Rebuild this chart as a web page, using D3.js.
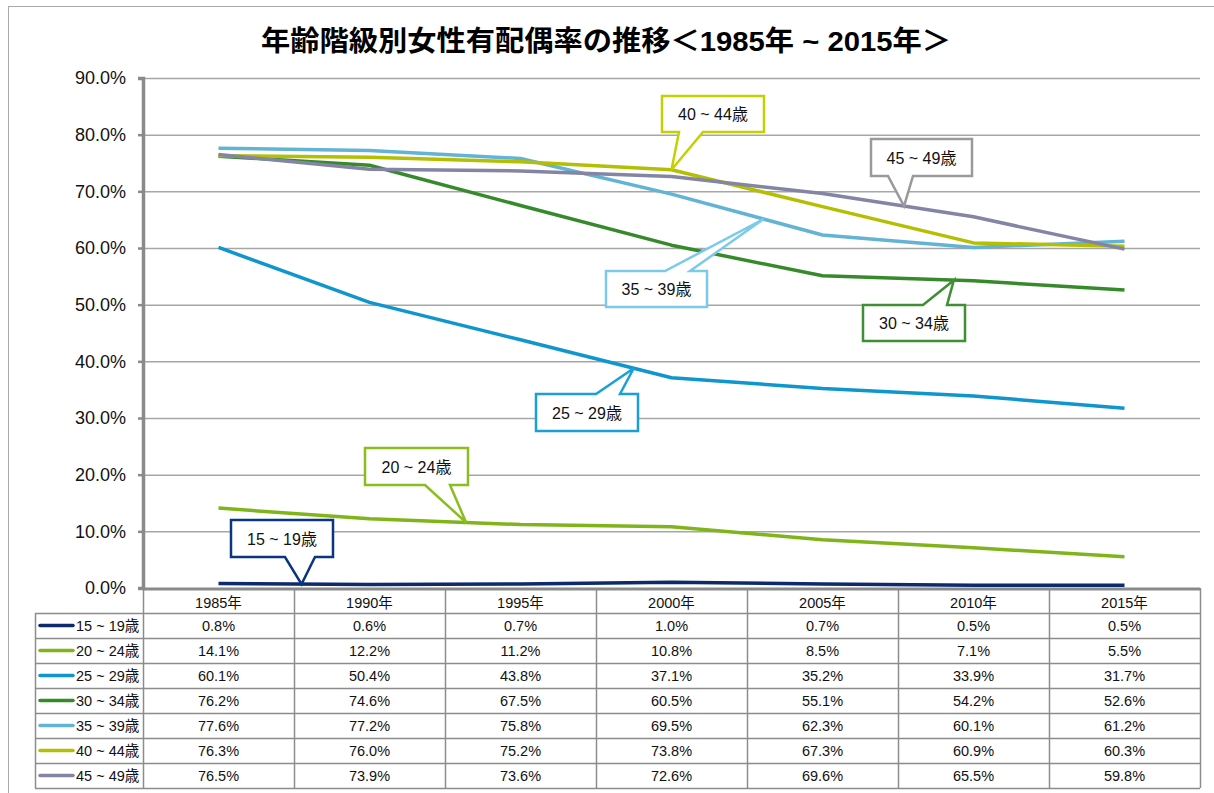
<!DOCTYPE html>
<html>
<head>
<meta charset="utf-8">
<script src="https://cdn.jsdelivr.net/npm/d3@7"></script>
<style>
  body { margin: 0; background: #fff; }
  svg { font-family: "Liberation Sans", Arial, "Noto Sans CJK JP", sans-serif; }
</style>
</head>
<body>
<svg id="chart" width="1214" height="793"></svg>
<script>
// chart data
const years = ["1985年", "1990年", "1995年", "2000年", "2005年", "2010年", "2015年"];
const seriesNames = ["15 ~ 19歳", "20 ~ 24歳", "25 ~ 29歳", "30 ~ 34歳", "35 ~ 39歳", "40 ~ 44歳", "45 ~ 49歳"];
const age15 = [0.8, 0.6, 0.7, 1.0, 0.7, 0.5, 0.5];
const age20 = [14.1, 12.2, 11.2, 10.8, 8.5, 7.1, 5.5];
const age25 = [60.1, 50.4, 43.8, 37.1, 35.2, 33.9, 31.7];
const age30 = [76.2, 74.6, 67.5, 60.5, 55.1, 54.2, 52.6];
const age35 = [77.6, 77.2, 75.8, 69.5, 62.3, 60.1, 61.2];
const age40 = [76.3, 76.0, 75.2, 73.8, 67.3, 60.9, 60.3];
const age45 = [76.5, 73.9, 73.6, 72.6, 69.6, 65.5, 59.8];
const yTicks = [0, 10, 20, 30, 40, 50, 60, 70, 80, 90];

const seriesValues = [age15, age20, age25, age30, age35, age40, age45];
const lineColors = ["#0c2a6c", "#80b41a", "#0f96cd", "#378a2b", "#62b3d4", "#b3bf00", "#8484a4"];
const calloutColors = ["#0b3483", "#8cbd1e", "#19a0d8", "#3f8f33", "#7ccaea", "#c4d000", "#9a9a9a"];

// callout layout: which series, where along it (fractional year index), box rect
const callouts = [
  { s: 0, t: 0.55, box: [231, 520, 102, 37], base: [285, 315], side: "bottom" },
  { s: 1, t: 1.64, box: [365, 448, 103, 37], base: [425, 450], side: "bottom" },
  { s: 2, t: 2.75, box: [536, 394, 102, 37], base: [596, 620], side: "top" },
  { s: 3, t: 4.87, box: [863, 305, 102, 36], base: [923, 947], side: "top" },
  { s: 4, t: 3.61, box: [606, 271, 101, 36], base: [665, 690], side: "top" },
  { s: 5, t: 3.0, box: [662, 96, 102, 36], base: [679, 703], side: "bottom" },
  { s: 6, t: 4.54, box: [871, 139, 101, 37], base: [888, 913], side: "bottom" }
];

const svg = d3.select("#chart");
const plotLeft = 143, plotRight = 1200, plotTop = 78, plotBottom = 588;

// outer frame
svg.append("rect").attr("x", 8.5).attr("y", 6.5).attr("width", 1220).attr("height", 800)
  .attr("fill", "none").attr("stroke", "#aaa").attr("stroke-width", 1);

// title
svg.append("text").attr("x", 261).attr("y", 51)
  .attr("font-size", 28).attr("font-weight", "bold").attr("fill", "#000")
  .attr("textLength", 690).attr("lengthAdjust", "spacingAndGlyphs")
  .text("年齢階級別女性有配偶率の推移＜1985年 ~ 2015年＞");

const x = d3.scaleBand().domain(years).range([plotLeft, plotRight]);
const y = d3.scaleLinear().domain([0, 90]).range([plotBottom, plotTop]);

// gridlines
svg.append("g").selectAll("line").data(yTicks.filter(d => d > 0)).join("line")
  .attr("x1", plotLeft).attr("x2", plotRight)
  .attr("y1", d => y(d) + 0.5).attr("y2", d => y(d) + 0.5)
  .attr("stroke", "#a6a6a6").attr("stroke-width", 1.5);

// y axis
const yAxis = d3.axisLeft(y).tickValues(yTicks).tickFormat(d => d.toFixed(1) + "%").tickSize(5).tickPadding(12);
const gy = svg.append("g").attr("transform", `translate(${plotLeft},0)`).call(yAxis);
gy.select(".domain").attr("stroke", "#8a8a8a").attr("stroke-width", 3.5);
gy.selectAll(".tick line").attr("stroke", "#8a8a8a").attr("stroke-width", 2.5);
gy.selectAll(".tick text").attr("font-size", 18).attr("fill", "#111")
  .attr("font-family", "Liberation Sans, Arial, sans-serif");

// x baseline
svg.append("line").attr("x1", plotLeft).attr("x2", plotRight)
  .attr("y1", plotBottom + 1).attr("y2", plotBottom + 1)
  .attr("stroke", "#8a8a8a").attr("stroke-width", 3);

// lines
const line = d3.line().x((d, i) => x(years[i]) + x.bandwidth() / 2).y(d => y(d));
svg.append("g").selectAll("path").data(seriesValues).join("path")
  .attr("d", d => line(d))
  .attr("fill", "none")
  .attr("stroke", (d, i) => lineColors[i])
  .attr("stroke-width", 3.5)
  .attr("stroke-linejoin", "round");

// callouts
function pointAt(vals, t) {
  const i0 = Math.floor(t), i1 = Math.min(i0 + 1, vals.length - 1), f = t - i0;
  const cx = x(years[i0]) + x.bandwidth() / 2 + f * x.step() * (i1 > i0 ? 1 : 0);
  const v = vals[i0] + (vals[i1] - vals[i0]) * f;
  return [cx, y(v)];
}
const cg = svg.append("g");
callouts.forEach(c => {
  const [bx, by, bw, bh] = c.box;
  const [tx, ty] = pointAt(seriesValues[c.s], c.t);
  const ey = c.side === "bottom" ? by + bh : by;
  let pts;
  if (c.side === "bottom") {
    pts = [[bx, by], [bx + bw, by], [bx + bw, ey], [c.base[1], ey], [tx, ty], [c.base[0], ey], [bx, ey]];
  } else {
    pts = [[bx, by], [c.base[0], by], [tx, ty], [c.base[1], by], [bx + bw, by], [bx + bw, by + bh], [bx, by + bh]];
  }
  cg.append("path").attr("d", "M" + pts.map(p => p.join(",")).join("L") + "Z")
    .attr("fill", "#fff").attr("stroke", calloutColors[c.s]).attr("stroke-width", 2.5)
    .attr("stroke-linejoin", "miter");
  cg.append("text").attr("x", bx + bw / 2).attr("y", by + bh / 2 + 6)
    .attr("text-anchor", "middle").attr("font-size", 16).attr("fill", "#111")
    .text(seriesNames[c.s]);
});

// data table
const tableTop = 588, headerH = 25, rowH = 25, legendLeft = 35;
const tg = svg.append("g");
const nRows = seriesNames.length;
const tableBottom = tableTop + headerH + nRows * rowH;
const gridColor = "#8c8c8c";
const tableFont = 14.5;

// header vertical separators
years.forEach((yr, i) => {
  const cx = x(yr);
  tg.append("line").attr("x1", cx + 0.5).attr("x2", cx + 0.5)
    .attr("y1", tableTop).attr("y2", tableBottom)
    .attr("stroke", gridColor).attr("stroke-width", 1.5);
  tg.append("text").attr("x", cx + x.bandwidth() / 2).attr("y", tableTop + 20)
    .attr("text-anchor", "middle").attr("font-size", tableFont).attr("fill", "#111").text(yr);
});
tg.append("line").attr("x1", plotRight + 0.5).attr("x2", plotRight + 0.5)
  .attr("y1", tableTop).attr("y2", tableBottom).attr("stroke", gridColor).attr("stroke-width", 1.5);
tg.append("line").attr("x1", legendLeft + 0.5).attr("x2", legendLeft + 0.5)
  .attr("y1", tableTop + headerH).attr("y2", tableBottom).attr("stroke", gridColor).attr("stroke-width", 1.5);

// row horizontal lines
d3.range(nRows + 1).forEach(r => {
  const ry = tableTop + headerH + r * rowH + 0.5;
  tg.append("line").attr("x1", legendLeft).attr("x2", plotRight)
    .attr("y1", ry).attr("y2", ry).attr("stroke", gridColor).attr("stroke-width", 1.5);
});

seriesNames.forEach((name, r) => {
  const cy = tableTop + headerH + r * rowH + rowH / 2;
  tg.append("line").attr("x1", legendLeft + 5).attr("x2", legendLeft + 38)
    .attr("y1", cy).attr("y2", cy)
    .attr("stroke", lineColors[r]).attr("stroke-width", 3.5).attr("stroke-linecap", "round");
  tg.append("text").attr("x", legendLeft + 41).attr("y", cy + 5)
    .attr("font-size", tableFont).attr("fill", "#111").text(name);
  seriesValues[r].forEach((v, i) => {
    tg.append("text").attr("x", x(years[i]) + x.bandwidth() / 2).attr("y", cy + 5)
      .attr("text-anchor", "middle").attr("font-size", tableFont).attr("fill", "#111")
      .text(v.toFixed(1) + "%");
  });
});
</script>
</body>
</html>
